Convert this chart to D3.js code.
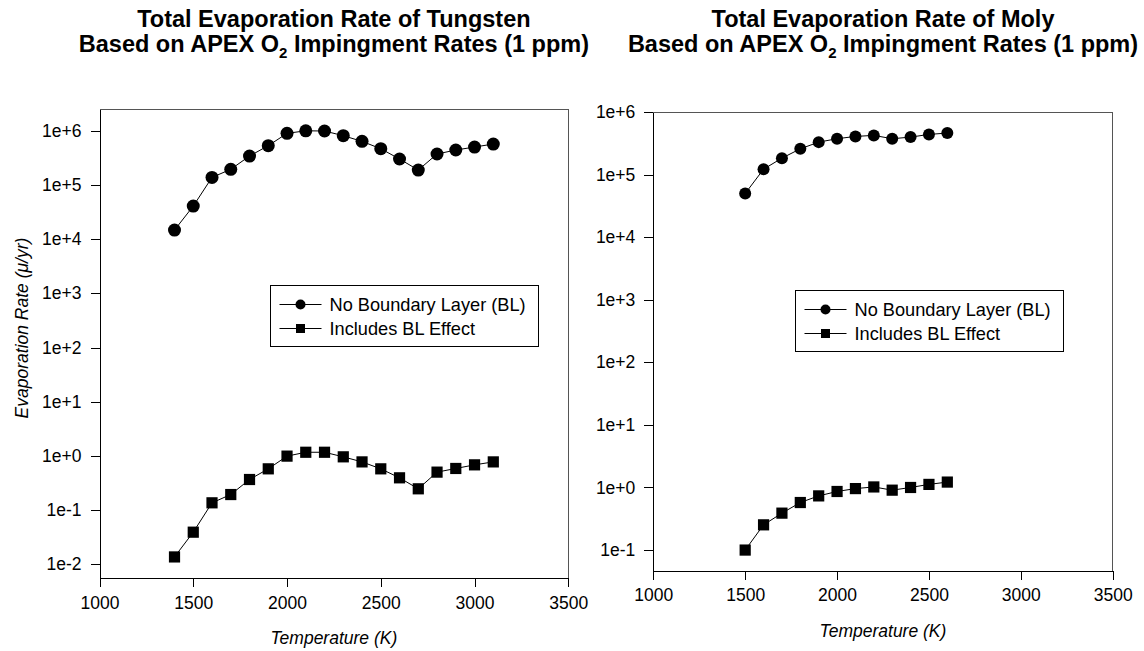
<!DOCTYPE html>
<html>
<head>
<meta charset="utf-8">
<script src="https://cdn.jsdelivr.net/npm/d3@7"></script>
<style>
  body { margin: 0; background: #fff; }
  text { font-family: Arial, "Liberation Sans", sans-serif; fill: #000; }
  .axis path, .axis line { stroke: #000; shape-rendering: crispEdges; }
  .axis text { font-size: 17.5px; }
</style>
</head>
<body>
<svg id="chart" width="1144" height="651"></svg>
<script>
// tungsten panel
var tempsW = [1400, 1500, 1600, 1700, 1800, 1900, 2000, 2100, 2200, 2300, 2400, 2500, 2600, 2700, 2800, 2900, 3000, 3100];
var wNoBL = [14800, 41000, 139000, 196000, 345000, 536000, 906000, 1010000, 1000000, 820000, 644000, 471000, 304000, 190000, 376000, 446000, 506000, 575000];
var wBL = [0.0135, 0.0387, 0.135, 0.192, 0.364, 0.573, 0.984, 1.16, 1.16, 0.955, 0.77, 0.573, 0.391, 0.245, 0.498, 0.582, 0.679, 0.77];

// moly panel
var tempsMo = [1500, 1600, 1700, 1800, 1900, 2000, 2100, 2200, 2300, 2400, 2500, 2600];
var moNoBL = [49800, 122000, 183000, 258000, 330000, 374000, 407000, 423000, 374000, 397000, 438000, 461000];
var moBL = [0.1, 0.253, 0.389, 0.575, 0.734, 0.863, 0.96, 1.02, 0.906, 1.0, 1.12, 1.22];

var xTicks = [1000, 1500, 2000, 2500, 3000, 3500];
var yTicksW = [1e6, 1e5, 1e4, 1e3, 1e2, 1e1, 1e0, 1e-1, 1e-2];
var yTicksMo = [1e6, 1e5, 1e4, 1e3, 1e2, 1e1, 1e0, 1e-1];

var seriesNames = ["No Boundary Layer (BL)", "Includes BL Effect"];

var svg = d3.select("#chart");

function expFormat(d) {
  var e = Math.round(Math.log10(d));
  return "1e" + (e >= 0 ? "+" + e : e);
}

function drawPanel(opt) {
  var x = d3.scaleLinear().domain([1000, 3500]).range([opt.left, opt.right]);
  var y = d3.scaleLog().domain(opt.yDomain).range([opt.bottom, opt.top]);

  var g = svg.append("g");

  // top + right frame
  g.append("path")
    .attr("d", "M" + opt.left + "," + opt.top + "H" + opt.right + "V" + opt.bottom)
    .attr("fill", "none")
    .attr("stroke", "#555")
    .attr("shape-rendering", "crispEdges");

  g.append("g")
    .attr("class", "axis")
    .attr("transform", "translate(0," + opt.bottom + ")")
    .call(d3.axisBottom(x).tickValues(xTicks).tickSize(9).tickPadding(9).tickSizeOuter(0).tickFormat(d3.format("d")));

  g.append("g")
    .attr("class", "axis")
    .attr("transform", "translate(" + opt.left + ",0)")
    .call(d3.axisLeft(y).tickValues(opt.yTicks).tickSize(9).tickPadding(9).tickSizeOuter(0).tickFormat(expFormat));

  var line = d3.line()
    .x(function(d) { return x(d[0]); })
    .y(function(d) { return y(d[1]); });

  var circ = d3.zip(opt.temps, opt.noBL);
  var sq = d3.zip(opt.temps, opt.bl);

  g.append("path").datum(circ).attr("d", line).attr("fill", "none").attr("stroke", "#000").attr("stroke-width", 1);
  g.append("path").datum(sq).attr("d", line).attr("fill", "none").attr("stroke", "#000").attr("stroke-width", 1);

  g.selectAll(".dot").data(circ).enter().append("circle")
    .attr("cx", function(d) { return x(d[0]); })
    .attr("cy", function(d) { return y(d[1]); })
    .attr("r", opt.r)
    .attr("fill", "#000");

  g.selectAll(".sq").data(sq).enter().append("rect")
    .attr("x", function(d) { return x(d[0]) - 5.6; })
    .attr("y", function(d) { return y(d[1]) - 5.6; })
    .attr("width", 11.2)
    .attr("height", 11.2)
    .attr("fill", "#000");

  // title
  var cx = (opt.left + opt.right) / 2;
  var title = g.append("text")
    .attr("x", cx).attr("y", 27)
    .attr("text-anchor", "middle")
    .style("font-size", "23.5px").style("font-weight", "bold");
  title.text(opt.title);
  var t2 = g.append("text")
    .attr("x", cx).attr("y", 52)
    .attr("text-anchor", "middle")
    .style("font-size", "23.5px").style("font-weight", "bold");
  t2.append("tspan").text("Based on APEX O");
  t2.append("tspan").attr("dy", 6).style("font-size", "15px").text("2");
  t2.append("tspan").attr("dy", -6).text(" Impingment Rates (1 ppm)");

  g.append("text")
    .attr("x", cx).attr("y", opt.bottom + 66)
    .attr("text-anchor", "middle")
    .style("font-size", "17.5px").style("font-style", "italic")
    .text("Temperature (K)");

  if (opt.yLabel) {
    g.append("text")
      .attr("transform", "translate(28," + 328 + ") rotate(-90)")
      .attr("text-anchor", "middle")
      .style("font-size", "17.5px").style("font-style", "italic")
      .text(opt.yLabel);
  }

  // legend
  var lg = g.append("g").attr("transform", "translate(" + opt.legX + "," + opt.legY + ")");
  lg.append("rect")
    .attr("width", 268).attr("height", 61)
    .attr("fill", "#fff").attr("stroke", "#000").attr("stroke-width", 1)
    .attr("shape-rendering", "crispEdges");
  seriesNames.forEach(function(name, i) {
    var ly = 19 + i * 24;
    lg.append("line").attr("x1", 9).attr("x2", 51).attr("y1", ly).attr("y2", ly).attr("stroke", "#000");
    if (i === 0) {
      lg.append("circle").attr("cx", 30).attr("cy", ly).attr("r", 5).attr("fill", "#000");
    } else {
      lg.append("rect").attr("x", 25.5).attr("y", ly - 4.5).attr("width", 9).attr("height", 9).attr("fill", "#000");
    }
    lg.append("text").attr("x", 59).attr("y", ly).attr("dy", "0.35em")
      .style("font-size", "18.2px").text(name);
  });
}

drawPanel({
  left: 99.5, right: 568.3, top: 109.3, bottom: 578.3,
  yDomain: [0.00544, 2.52e6], yTicks: yTicksW,
  temps: tempsW, noBL: wNoBL, bl: wBL, r: 6.5,
  title: "Total Evaporation Rate of Tungsten",
  yLabel: "Evaporation Rate (\u03bc/yr)",
  legX: 270.5, legY: 285.5
});

drawPanel({
  left: 653.3, right: 1112.7, top: 112, bottom: 570.7,
  yDomain: [0.0468, 1e6], yTicks: yTicksMo,
  temps: tempsMo, noBL: moNoBL, bl: moBL, r: 6,
  title: "Total Evaporation Rate of Moly",
  yLabel: null,
  legX: 795.5, legY: 290.5
});
</script>
</body>
</html>
